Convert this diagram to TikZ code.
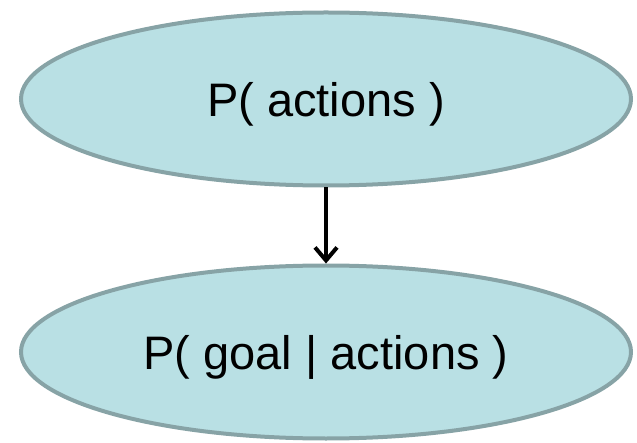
\documentclass[tikz,border=0pt]{standalone}
\usepackage{fontspec}
\setmainfont{Liberation Sans}
\usepackage{tikz}
\usetikzlibrary{shapes,arrows.meta,positioning}
\definecolor{nodefill}{HTML}{B9E0E4}
\definecolor{nodeline}{HTML}{87A3A6}

\begin{document}
\begin{tikzpicture}[x=1pt, y=1pt,
    prob/.style={ellipse, draw=nodeline, fill=nodefill, line width=4pt,
        minimum width=610pt, minimum height=173pt, inner sep=0pt, text depth=0pt,
        font=\fontsize{47}{50}\selectfont},
    link/.style={-{Straight Barb[length=13pt, width=22pt, line width=4pt]}, line width=4pt}]
    \useasboundingbox (0,0) rectangle (637,442);

    \node [prob] (actions) at (326, 343) {P( actions )};
    \node [prob] (goal) at (326, 90) {P( goal | actions )};

    \draw [link] (actions) -- (goal);
\end{tikzpicture}
\end{document}
